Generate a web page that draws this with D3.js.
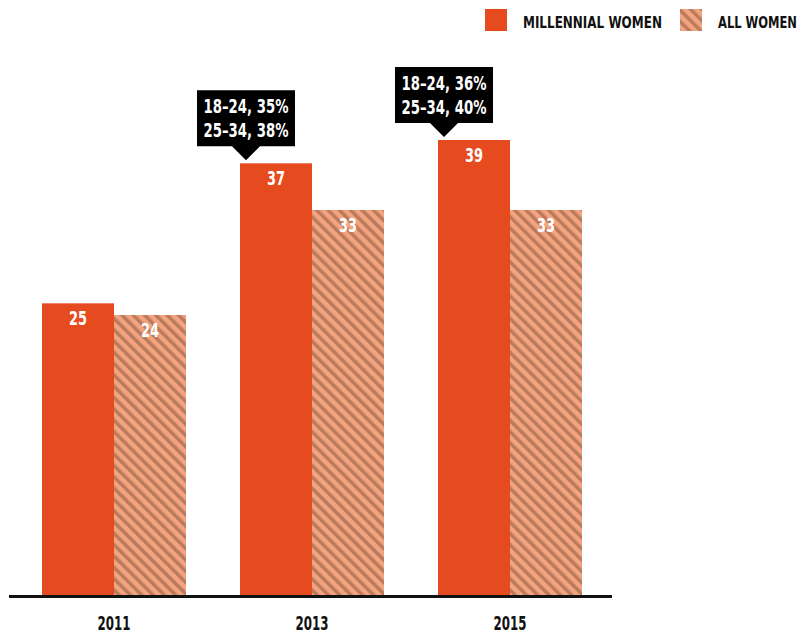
<!DOCTYPE html>
<html lang="en">
<head>
<meta charset="UTF-8">
<title>Millennial women</title>
<style>
    body { margin: 0; background: #fff; }
    svg text { font-family: "DejaVu Sans Condensed", "DejaVu Sans", sans-serif; font-weight: bold; }
</style>
</head>
<body>
<svg id="chart" width="801" height="636"></svg>
<script src="https://cdn.jsdelivr.net/npm/d3@7"></script>
<script>
    // values
    var years = ['2011', '2013', '2015']
    var millennialWomen = [25, 37, 39]
    var allWomen = [24, 33, 33]
    var seriesNames = ['MILLENNIAL WOMEN', 'ALL WOMEN']
    // callouts above the millennial bars (null = no callout)
    var calloutLines = [null, ['18–24, 35%', '25–34, 38%'], ['18–24, 36%', '25–34, 40%']]

    var orange = '#e54b1f'
    var svg = d3.select('#chart')

    // squeeze a text horizontally so it looks like the condensed font of the original
    function condense(sel, width) {
        sel.each(function () {
            var t = d3.select(this)
            var tx = +t.attr('x'), ty = +t.attr('y')
            var w = this.getComputedTextLength()
            var f = Math.min(1, width / w)
            t.attr('x', 0).attr('y', 0)
                .attr('transform', 'translate(' + tx + ',' + ty + ') scale(' + f + ',1)')
        })
    }

    // hatch pattern for "all women"
    var defs = svg.append('defs')
    var pat = defs.append('pattern')
        .attr('id', 'hatch')
        .attr('patternUnits', 'userSpaceOnUse')
        .attr('width', 8).attr('height', 8)
        .attr('patternTransform', 'rotate(-45)')
    pat.append('rect').attr('width', 8).attr('height', 8).attr('fill', '#f3a47e')
    pat.append('rect').attr('x', 0).attr('width', 3.5).attr('height', 8).attr('fill', '#b97a5d')

    var x = d3.scaleBand().domain(years).range([42, 582]).paddingInner(54 / 198).paddingOuter(0)
    var inner = d3.scaleBand().domain([0, 1]).range([0, x.bandwidth()])
    var y = d3.scaleLinear().domain([0, 39]).range([595, 140])

    var data = years.map(function (yr, i) {
        return { year: yr, vals: [millennialWomen[i], allWomen[i]], callout: calloutLines[i] }
    })

    var groups = svg.append('g').selectAll('g')
        .data(data).enter().append('g')
        .attr('transform', function (d) { return 'translate(' + x(d.year) + ',0)' })

    groups.selectAll('rect')
        .data(function (d) { return d.vals })
        .enter().append('rect')
        .attr('x', function (d, i) { return inner(i) })
        .attr('y', function (d) { return y(d) })
        .attr('width', inner.bandwidth())
        .attr('height', function (d) { return y(0) - y(d) })
        .attr('fill', function (d, i) { return i === 0 ? orange : 'url(#hatch)' })

    groups.selectAll('text.val')
        .data(function (d) { return d.vals })
        .enter().append('text')
        .attr('class', 'val')
        .attr('x', function (d, i) { return inner(i) + inner.bandwidth() / 2 })
        .attr('y', function (d) { return y(d) + 22 })
        .attr('text-anchor', 'middle')
        .attr('fill', '#fff')
        .attr('font-size', 19)
        .text(function (d) { return d })
        .call(condense, 18)

    // callout boxes, pointer sits near the left edge of the millennial bar
    groups.filter(function (d) { return d.callout }).each(function (d) {
        var g = d3.select(this)
        var cx = inner(0) + 6
        var tipY = y(d.vals[0]) - 3
        var boxBottom = tipY - 14
        var boxTop = boxBottom - 56
        var left = cx - 49, right = cx + 49
        g.append('path')
            .attr('d', 'M' + left + ',' + boxTop + 'H' + right + 'V' + boxBottom +
                'H' + (cx + 14) + 'L' + cx + ',' + tipY + 'L' + (cx - 14) + ',' + boxBottom +
                'H' + left + 'Z')
            .attr('fill', '#000')
        d.callout.forEach(function (line, k) {
            g.append('text')
                .attr('x', cx)
                .attr('y', boxTop + 23 + k * 24)
                .attr('text-anchor', 'middle')
                .attr('fill', '#fff')
                .attr('font-size', 20)
                .text(line)
                .call(condense, 85)
        })
    })

    // axis line and year labels
    svg.append('line')
        .attr('x1', 9).attr('x2', 612)
        .attr('y1', y(0) + 1.5).attr('y2', y(0) + 1.5)
        .attr('stroke', '#111').attr('stroke-width', 3)

    svg.append('g').selectAll('text')
        .data(years).enter().append('text')
        .attr('x', function (d) { return x(d) + x.bandwidth() / 2 })
        .attr('y', 630)
        .attr('text-anchor', 'middle')
        .attr('fill', '#111')
        .attr('font-size', 19)
        .text(function (d) { return d })
        .call(condense, 33)

    // legend
    var legend = svg.append('g')
    var legX = [485, 680]
    var legLen = [139, 79]
    seriesNames.forEach(function (name, i) {
        legend.append('rect')
            .attr('x', legX[i]).attr('y', 9)
            .attr('width', 22).attr('height', 22)
            .attr('fill', i === 0 ? orange : 'url(#hatch)')
        legend.append('text')
            .attr('x', legX[i] + 38).attr('y', 28)
            .attr('fill', '#111')
            .attr('font-size', 16.5)
            .text(name)
            .call(condense, legLen[i])
    })
</script>
</body>
</html>
